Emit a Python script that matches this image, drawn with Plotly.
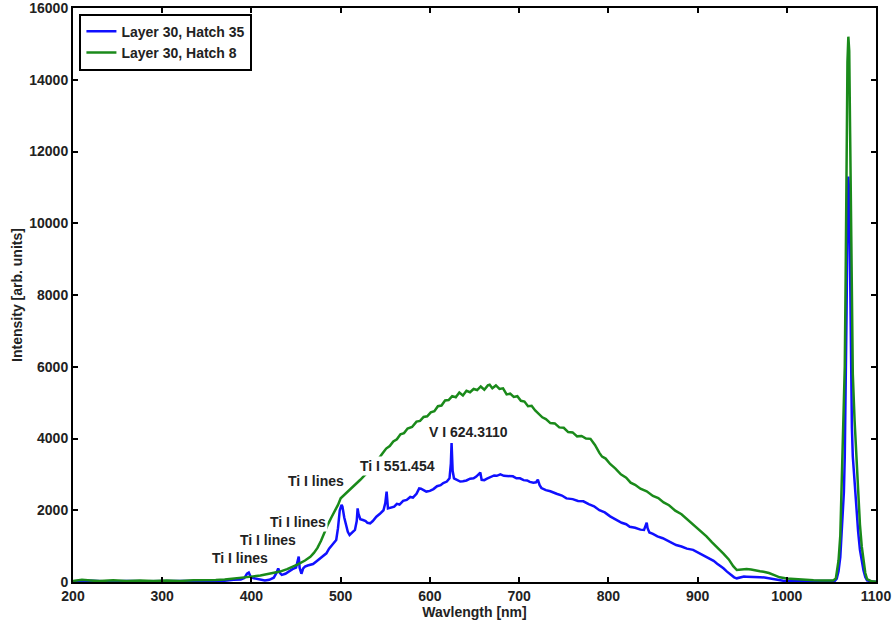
import plotly.graph_objects as go

# ---------------- data ----------------
blue_wl = [200, 220, 240, 260, 280, 300, 320, 340, 350, 360, 370, 380, 388, 392, 395, 397, 399,
           402, 406, 410, 415, 420, 425, 428, 430, 432, 434, 438, 442, 446, 450, 452, 453, 454,
           456, 458, 460, 463, 466, 469, 472, 475, 478, 481, 484, 487, 490, 493, 495, 497, 499,
           501, 502, 504, 506, 508, 510, 513, 516, 518, 519, 520, 522, 525, 528, 530, 533, 536,
           540, 544, 548, 550, 551.5, 553, 556, 560, 563, 566, 570, 574, 578, 581, 585, 588, 590,
           593, 596, 600, 604, 608, 612, 615, 619, 622, 623.5, 624.3, 625.5, 627, 630, 634, 637,
           641, 645, 649, 652, 655, 656.5, 658, 661, 664, 668, 672, 675, 679, 683, 687, 690, 693,
           697, 701, 705, 709, 712, 716, 719, 721, 723, 725, 730, 735, 742, 748, 753, 760, 766,
           772, 778, 784, 790, 796, 802, 809, 815, 820, 824, 830, 836, 840, 842, 843, 844, 846,
           850, 855, 861, 866, 871, 876, 882, 888, 895, 900, 905, 910, 914, 918, 922, 926, 929,
           933, 937, 941, 944, 948, 952, 955, 960, 965, 970, 975, 980, 985, 990, 996, 1005, 1015,
           1025, 1035, 1045, 1050, 1054, 1056, 1058, 1060, 1062, 1064, 1065, 1066, 1067, 1068,
           1069, 1070, 1071, 1072, 1073, 1074, 1076, 1078, 1080, 1082, 1084, 1086, 1088, 1090,
           1095, 1100]
blue_int = [20, 35, 15, 30, 20, 25, 15, 30, 20, 40, 35, 60, 70, 110, 230, 260, 150,
            110, 90, 70, 40, 60, 120, 250, 380, 250, 200, 230, 300, 360, 400, 560, 706, 400,
            230, 380, 430, 460, 480, 500, 560, 620, 680, 720, 800, 930, 1030, 1100, 1170, 1500, 2000,
            2150, 2100, 1800, 1550, 1400, 1310, 1380, 1450, 1700, 2050, 1900, 1750, 1728, 1700, 1650, 1635, 1700,
            1820, 1900, 2000, 2200, 2520, 2050, 2080, 2100, 2180, 2160, 2260, 2290, 2370, 2350, 2460, 2610, 2600,
            2560, 2520, 2540, 2590, 2670, 2700, 2760, 2800, 2890, 3300, 3870, 3100, 2890, 2860, 2800, 2810,
            2830, 2880, 2890, 2940, 3010, 3050, 2850, 2840, 2880, 2920, 2970, 2960, 3000, 2960, 2960, 2940, 2946,
            2890, 2890, 2840, 2830, 2790, 2770, 2780, 2850, 2700, 2620, 2560, 2530, 2460, 2410, 2330, 2310, 2260,
            2250, 2170, 2110, 2000, 1940, 1830, 1740, 1650, 1610, 1540, 1510, 1460, 1450, 1600, 1654, 1500, 1380,
            1340, 1270, 1220, 1150, 1100, 1030, 990, 930, 895, 830, 760, 700, 660, 590, 510, 440, 381,
            290, 200, 130, 102, 130, 150, 149, 150, 140, 135, 125, 100, 80, 55, 37, 25, 20,
            18, 20, 25, 30, 35, 90, 300, 700, 1500, 2500, 3500, 5000, 7500, 10000,
            11300, 10800, 8500, 6000, 4300, 3500, 2700, 2000, 1400, 900, 550, 320, 140, 45,
            15, 10]

green_wl = [200, 210, 220, 230, 245, 260, 275, 290, 305, 320, 335, 350, 360, 370, 380, 390, 400,
            410, 420, 432, 440, 452, 460, 466, 470, 474, 478, 482, 486, 490, 494, 497, 500, 503,
            506, 510, 514, 518, 522, 526, 530, 534, 538, 542, 547, 551, 555, 559, 563, 567, 571,
            575, 580, 585, 589, 593, 597, 601, 605, 609, 613, 617, 621, 625, 629, 633, 637, 641,
            645, 649, 653, 657, 661, 665, 667, 670, 674, 678, 682, 686, 690, 694, 698, 702, 706,
            710, 714, 718, 722, 726, 730, 735, 740, 745, 750, 755, 760, 765, 770, 775, 780, 785,
            790, 793, 797, 802, 808, 814, 820, 825, 830, 836, 843, 850, 856, 862, 868, 875, 882,
            888, 895, 903, 910, 916, 922, 929, 935, 940, 944, 950, 955, 960, 965, 970, 974, 980,
            986, 992, 1000, 1011, 1020, 1030, 1040, 1048, 1052, 1055, 1058, 1060, 1062, 1064, 1065,
            1066, 1067, 1068, 1069, 1070, 1071, 1072, 1073, 1074, 1076, 1078, 1080, 1082, 1084,
            1086, 1088, 1090, 1095, 1100]
green_int = [30, 60, 40, 25, 50, 30, 45, 30, 40, 30, 50, 45, 55, 70, 90, 110, 150,
             180, 230, 290, 360, 490, 600, 700, 810, 950, 1150, 1400, 1620, 1820, 2000, 2150, 2333, 2400,
             2480, 2565, 2660, 2750, 2850, 2950, 3050, 3150, 3280, 3430, 3587, 3720, 3790, 3920, 3980, 4120, 4150,
             4280, 4320, 4470, 4490, 4600, 4620, 4730, 4760, 4900, 4920, 5060, 5070, 5180, 5150, 5280, 5200, 5330,
             5290, 5380, 5350, 5450, 5360, 5480, 5500, 5400, 5480, 5380, 5400, 5230, 5250, 5160, 5180, 5050, 5030,
             4900, 4910, 4780, 4680, 4590, 4540, 4430, 4420, 4310, 4300, 4180, 4170, 4060, 4070, 4000, 3990, 3820,
             3600, 3494, 3440, 3290, 3160, 3000, 2910, 2770, 2710, 2600, 2530, 2400, 2340, 2220, 2140, 1990, 1890,
             1760, 1610, 1410, 1270, 1110, 970, 790, 630, 440, 334, 350, 362, 350, 320, 300, 288, 250,
             190, 130, 100, 75, 60, 50, 40, 37, 45, 100, 600, 1300, 3000, 4800, 6000,
             8500, 12000, 14500, 15200, 14800, 12500, 9500, 7000, 5800, 4500, 3400, 2400, 1600, 1000,
             600, 250, 80, 20, 10]

label_texts = ["Ti I lines", "Ti I lines", "Ti I lines", "Ti I lines", "Ti I 551.454", "V I 624.3110"]
label_wl = [387.5, 418, 452.4, 472.7, 563.7, 643]
label_int = [660, 1171, 1678, 2820, 3238, 4190]

x_ticks = [200, 300, 400, 500, 600, 700, 800, 900, 1000, 1100]
y_ticks = [0, 2000, 4000, 6000, 8000, 10000, 12000, 14000, 16000]

# ---------------- figure ----------------
FONT = "Liberation Sans, Arial, sans-serif"
TXT = dict(family=FONT, size=14, color="#222", weight="bold")

fig = go.Figure()
fig.add_trace(go.Scatter(x=blue_wl, y=blue_int, mode="lines", name="Layer 30, Hatch 35",
                         line=dict(color="#1010ff", width=2.5)))
fig.add_trace(go.Scatter(x=green_wl, y=green_int, mode="lines", name="Layer 30, Hatch 8",
                         line=dict(color="#1a8a1a", width=2.5)))

for t, xw, yi in zip(label_texts, label_wl, label_int):
    fig.add_annotation(x=xw, y=yi, text=t, showarrow=False, bgcolor="white",
                       font=TXT, borderpad=1)

axis_common = dict(showline=True, linecolor="black", linewidth=2, mirror="ticks",
                   ticks="inside", ticklen=5, tickwidth=1.5, tickcolor="black",
                   showgrid=False, zeroline=False, automargin=False,
                   ticklabeloverflow="allow", tickfont=TXT)

fig.update_xaxes(range=[200, 1100], tickvals=x_ticks, ticktext=[str(v) for v in x_ticks],
                 title=dict(text="Wavlength [nm]", standoff=2, font=TXT),
                 **axis_common)
fig.update_yaxes(range=[0, 16000], tickvals=y_ticks, ticktext=[str(v) for v in y_ticks],
                 title=dict(text="Intensity [arb. units]", standoff=3, font=TXT),
                 **axis_common)

fig.update_layout(
    width=896, height=625,
    margin=dict(l=73, r=20, t=8, b=43, autoexpand=False),
    paper_bgcolor="white", plot_bgcolor="white",
    showlegend=True,
    legend=dict(x=0.008, y=0.99, xanchor="left", yanchor="top",
                bgcolor="white", bordercolor="black", borderwidth=2,
                font=TXT, itemwidth=30, tracegroupgap=0),
)

fig.write_html("out.html", config={"displayModeBar": False},
               post_script="document.body.style.margin='0';document.body.style.padding='0';")
